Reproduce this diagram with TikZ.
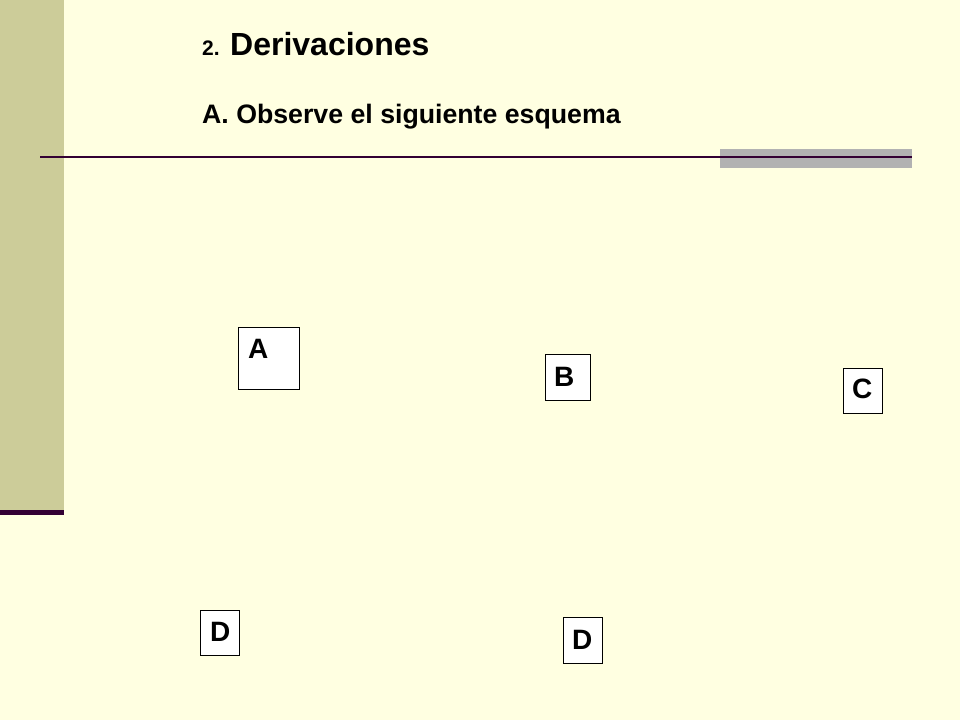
\documentclass[tikz,border=0pt]{standalone}
\usepackage{fontspec}
\setmainfont{Liberation Sans}
\usetikzlibrary{calc}
\definecolor{bgc}{HTML}{FFFFE1}
\definecolor{barc}{HTML}{CCCC99}
\definecolor{darkp}{HTML}{330033}
\definecolor{grayc}{HTML}{B2B2B2}
\tikzset{
  box/.style={draw=black, line width=1pt, fill=white, inner sep=0pt, anchor=north west},
  lab/.style={anchor=base west, inner sep=0pt, font=\bfseries\fontsize{28}{32}\selectfont},
}
\begin{document}
\begin{tikzpicture}[x=1pt,y=-1pt]
\useasboundingbox (0,0) rectangle (960,720);
\fill[bgc] (0,0) rectangle (960,720);
% left bar
\fill[barc] (0,0) rectangle (64,510);
\fill[darkp] (0,510) rectangle (64,514.5);
% gray accent and rule
\fill[grayc] (720,149) rectangle (912,168);
\coordinate (rl) at (40,157);
\coordinate (rr) at (912,157);
\draw[darkp, line width=2.2pt] (rl) -- (rr);
% titles
\node[anchor=base west, inner sep=0pt, font=\bfseries\fontsize{21}{24}\selectfont] (num) at (202,55) {2.};
\node[anchor=base west, inner sep=0pt, font=\bfseries\fontsize{32}{36}\selectfont] (tit) at (230,55) {Derivaciones};
\node[anchor=base west, inner sep=0pt, font=\bfseries\fontsize{26.7}{30}\selectfont] (sub) at (202,123) {A. Observe el siguiente esquema};
% boxes
\node[box, minimum width=61pt, minimum height=62pt] (bA) at (238,327) {};
\node[lab] (lA) at (248,358) {A};
\node[box, minimum width=45pt, minimum height=46pt] (bB) at (545,354) {};
\node[lab] (lB) at (554,386) {B};
\node[box, minimum width=39pt, minimum height=45pt] (bC) at (843,368) {};
\node[lab] (lC) at (852,398) {C};
\node[box, minimum width=39pt, minimum height=45pt] (bD1) at (200,610) {};
\node[lab] (lD1) at (210,641) {D};
\node[box, minimum width=39pt, minimum height=46pt] (bD2) at (563,617) {};
\node[lab] (lD2) at (572,649) {D};
\end{tikzpicture}
\end{document}
